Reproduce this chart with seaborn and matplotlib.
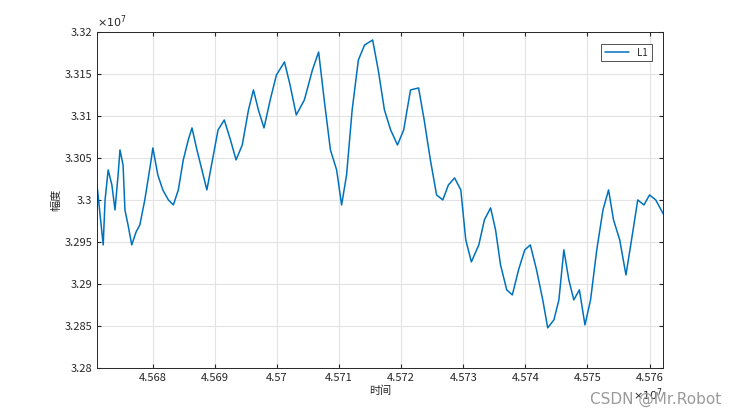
import numpy as np
import matplotlib.pyplot as plt
import seaborn as sns
from matplotlib.ticker import FuncFormatter

# time (x 1e7) and amplitude (x 1e7)
time = [4.56710, 4.56715, 4.56720, 4.56723, 4.56728, 4.56734, 4.56739, 4.56744, 4.56747, 4.56752,
        4.56755, 4.56760, 4.56766, 4.56773, 4.56779, 4.56787, 4.56796, 4.56800, 4.56808, 4.56816,
        4.56825, 4.56833, 4.56841, 4.56849, 4.56857, 4.56863, 4.56871, 4.56879, 4.56887, 4.56896,
        4.56905, 4.56915, 4.56925, 4.56934, 4.56944, 4.56954, 4.56962, 4.56970, 4.56979, 4.56989,
        4.56999, 4.57012, 4.57021, 4.57031, 4.57044, 4.57057, 4.57067, 4.57076, 4.57086, 4.57096,
        4.57104, 4.57112, 4.57121, 4.57131, 4.57141, 4.57154, 4.57163, 4.57173, 4.57183, 4.57194,
        4.57204, 4.57215, 4.57228, 4.57237, 4.57247, 4.57257, 4.57267, 4.57276, 4.57286, 4.57296,
        4.57304, 4.57313, 4.57325, 4.57334, 4.57344, 4.57352, 4.57360, 4.57370, 4.57379, 4.57389,
        4.57399, 4.57408, 4.57418, 4.57428, 4.57436, 4.57446, 4.57454, 4.57462, 4.57470, 4.57478,
        4.57487, 4.57496, 4.57505, 4.57515, 4.57525, 4.57534, 4.57542, 4.57552, 4.57562, 4.57571,
        4.57581, 4.57591, 4.57600, 4.57610, 4.57623]
amp = [3.30179, 3.29822, 3.29465, 3.30001, 3.30358, 3.30179, 3.29882, 3.30298, 3.30596, 3.30417,
       3.29882, 3.29703, 3.29465, 3.29620, 3.29703, 3.30001, 3.30417, 3.30620, 3.30298, 3.30120,
       3.30001, 3.29941, 3.30120, 3.30477, 3.30715, 3.30858, 3.30596, 3.30358, 3.30120, 3.30477,
       3.30834, 3.30953, 3.30715, 3.30477, 3.30655, 3.31072, 3.31310, 3.31072, 3.30858, 3.31191,
       3.31488, 3.31643, 3.31369, 3.31012, 3.31191, 3.31548, 3.31762, 3.31191, 3.30596, 3.30358,
       3.29941, 3.30298, 3.31072, 3.31667, 3.31845, 3.31905, 3.31548, 3.31072, 3.30834, 3.30655,
       3.30834, 3.31310, 3.31334, 3.30953, 3.30477, 3.30060, 3.30001, 3.30179, 3.30263, 3.30120,
       3.29525, 3.29263, 3.29465, 3.29763, 3.29906, 3.29644, 3.29227, 3.28930, 3.28870, 3.29168,
       3.29406, 3.29465, 3.29168, 3.28811, 3.28478, 3.28573, 3.28811, 3.29406, 3.29049, 3.28811,
       3.28930, 3.28513, 3.28811, 3.29406, 3.29882, 3.30120, 3.29763, 3.29525, 3.29108, 3.29525,
       3.30001, 3.29941, 3.30060, 3.30001, 3.29822]

x_ticks = [4.568, 4.569, 4.570, 4.571, 4.572, 4.573, 4.574, 4.575, 4.576]
y_ticks = [3.28, 3.285, 3.29, 3.295, 3.30, 3.305, 3.31, 3.315, 3.32]

sns.set_style("whitegrid")
plt.rcParams['font.family'] = ['Noto Sans CJK SC', 'DejaVu Sans']
plt.rcParams['axes.unicode_minus'] = False

fig = plt.figure(figsize=(7.32, 4.13), dpi=100)
ax = fig.add_axes([0.1325, 0.109, 0.7735, 0.8135])

t = np.array(time) * 1e7
a = np.array(amp) * 1e7
sns.lineplot(x=t, y=a, ax=ax, color='#0072BD', linewidth=1.1, label='L1')

ax.set_xlim(4.5671e7, 4.57622e7)
ax.set_ylim(3.28e7, 3.32e7)
ax.set_xticks(np.array(x_ticks) * 1e7)
ax.set_yticks(np.array(y_ticks) * 1e7)
fmt = FuncFormatter(lambda v, p: f'{round(v / 1e7, 4):g}')
ax.xaxis.set_major_formatter(fmt)
ax.yaxis.set_major_formatter(fmt)
ax.tick_params(labelsize=8, colors='#262626', direction='in', length=3,
               top=True, right=True, bottom=True, left=True)
ax.grid(True, color='#e3e3e3', linewidth=0.8)
for s in ax.spines.values():
    s.set_color('#262626')
    s.set_linewidth(0.7)

ax.text(0.0, 1.005, r'$\times10^{7}$', transform=ax.transAxes, fontsize=8,
        color='#262626', ha='left', va='bottom')
ax.text(1.0, -0.055, r'$\times10^{7}$', transform=ax.transAxes, fontsize=8,
        color='#262626', ha='right', va='top')

ax.set_xlabel('时间', fontsize=8, labelpad=2)
ax.set_ylabel('幅度', fontsize=8, labelpad=2)
leg = ax.legend(loc='upper right', fontsize=7, fancybox=False, edgecolor='#262626',
                handlelength=2.5, borderaxespad=1.2)
leg.get_frame().set_linewidth(0.7)

fig.text(0.985, 0.015, 'CSDN @Mr.Robot', ha='right', va='bottom', fontsize=11,
         color='#9a9a9a', family=['DejaVu Sans'])

fig.savefig('out.png', dpi=100)
